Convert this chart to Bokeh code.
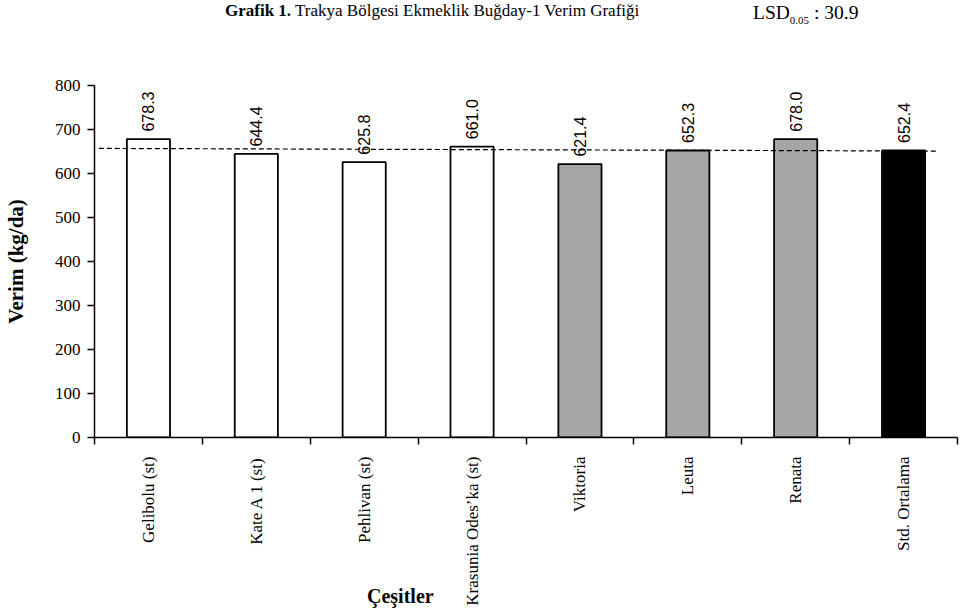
import math
from bokeh.plotting import figure
from bokeh.layouts import column
from bokeh.models import ColumnDataSource, FixedTicker, Range1d, Div
from bokeh.core.properties import value
from bokeh.embed import file_html
from bokeh.resources import INLINE

# ---- data ----
categories = ["Gelibolu (st)", "Kate A 1 (st)", "Pehlivan (st)", "Krasunia Odes’ka (st)",
              "Viktoria", "Leuta", "Renata", "Std. Ortalama"]
yields = [678.3, 644.4, 625.8, 661.0, 621.4, 652.3, 678.0, 652.4]
bar_colors = ["white", "white", "white", "white", "#a6a6a6", "#a6a6a6", "#a6a6a6", "black"]
y_ticks = [0, 100, 200, 300, 400, 500, 600, 700, 800]
ref_line_x = [0.04, 7.82]
ref_line_y = [657.0, 651.0]
title_bold = "Grafik 1."
title_main = "Trakya Bölgesi Ekmeklik Buğday-1 Verim Grafiği"
lsd_label = "LSD"
lsd_sub = "0.05"
lsd_value = 30.9
x_title = "Çeşitler"
y_title = "Verim (kg/da)"

SERIF = "Liberation Serif"
SANS = "Liberation Sans"

n = len(categories)
centers = [i + 0.5 for i in range(n)]
src = ColumnDataSource(dict(
    x=centers, top=yields, color=bar_colors,
    lab=[f"{v:.1f}" for v in yields],
    ly=[v + 17 for v in yields],
))

title_div = Div(
    text=(f'<div style="position:relative;width:960px;height:26px;font-family:\'{SERIF}\';'
          f'font-size:17px;color:black;">'
          f'<span style="position:absolute;left:225px;top:-1px;white-space:nowrap;">'
          f'<b>{title_bold}</b> {title_main}</span>'
          f'<span style="position:absolute;left:753px;top:-1px;white-space:nowrap;font-size:19.5px;">'
          f'{lsd_label}<sub style="font-size:11px;">{lsd_sub}</sub> : {lsd_value}</span></div>'),
    width=960, height=26, margin=(0, 0, 0, 0))

p = figure(width=960, height=582, output_backend="svg", toolbar_location=None,
           x_range=Range1d(0, n), y_range=Range1d(0, 800),
           min_border_left=93, min_border_right=3, min_border_top=59, min_border_bottom=171,
           margin=(0, 0, 0, 0))
p.outline_line_color = None
p.grid.grid_line_color = None
p.background_fill_color = "white"

p.vbar(x="x", top="top", width=0.4, fill_color="color", line_color="black",
       line_width=1.8, source=src)

p.line(ref_line_x, ref_line_y, line_color="black", line_dash="5 3", line_width=1.2)

p.text(x="x", y="ly", text="lab", source=src, angle=math.pi / 2,
       text_align="left", text_baseline="middle",
       text_font=value(SANS), text_font_size="16px", text_color="black")

# y axis
ya = p.yaxis[0]
ya.ticker = FixedTicker(ticks=y_ticks)
ya.axis_line_color = "black"
ya.axis_line_width = 1.5
ya.major_tick_out = 7
ya.major_tick_in = 0
ya.major_tick_line_width = 1.5
ya.minor_tick_line_color = None
ya.major_label_text_font = SERIF
ya.major_label_text_font_size = "17px"
ya.major_label_text_color = "black"
ya.major_label_standoff = 7
ya.axis_label = y_title
ya.axis_label_text_font = SERIF
ya.axis_label_text_font_style = "bold"
ya.axis_label_text_font_size = "21px"
ya.axis_label_text_color = "black"
ya.axis_label_standoff = 24

# x axis: labels at centers, ticks at category boundaries
xa = p.xaxis[0]
xa.ticker = FixedTicker(ticks=centers, minor_ticks=list(range(n + 1)))
xa.major_label_overrides = {c: name for c, name in zip(centers, categories)}
xa.major_label_orientation = math.pi / 2
xa.major_tick_line_color = None
xa.major_tick_out = 0
xa.major_tick_in = 0
xa.minor_tick_out = 7
xa.minor_tick_in = 0
xa.minor_tick_line_width = 1.5
xa.minor_tick_line_color = "black"
xa.axis_line_color = "black"
xa.axis_line_width = 1.5
xa.major_label_text_font = SERIF
xa.major_label_text_font_size = "17px"
xa.major_label_text_color = "black"
xa.major_label_standoff = 12

x_title_div = Div(
    text=(f'<div style="font-family:\'{SERIF}\';font-size:20px;font-weight:bold;'
          f'line-height:18px;color:black;white-space:nowrap;">{x_title}</div>'),
    width=100, height=18, margin=(-21, 0, 0, 367))

layout = column(title_div, p, x_title_div, spacing=0)

open("out.html", "w").write(file_html(layout, INLINE))
